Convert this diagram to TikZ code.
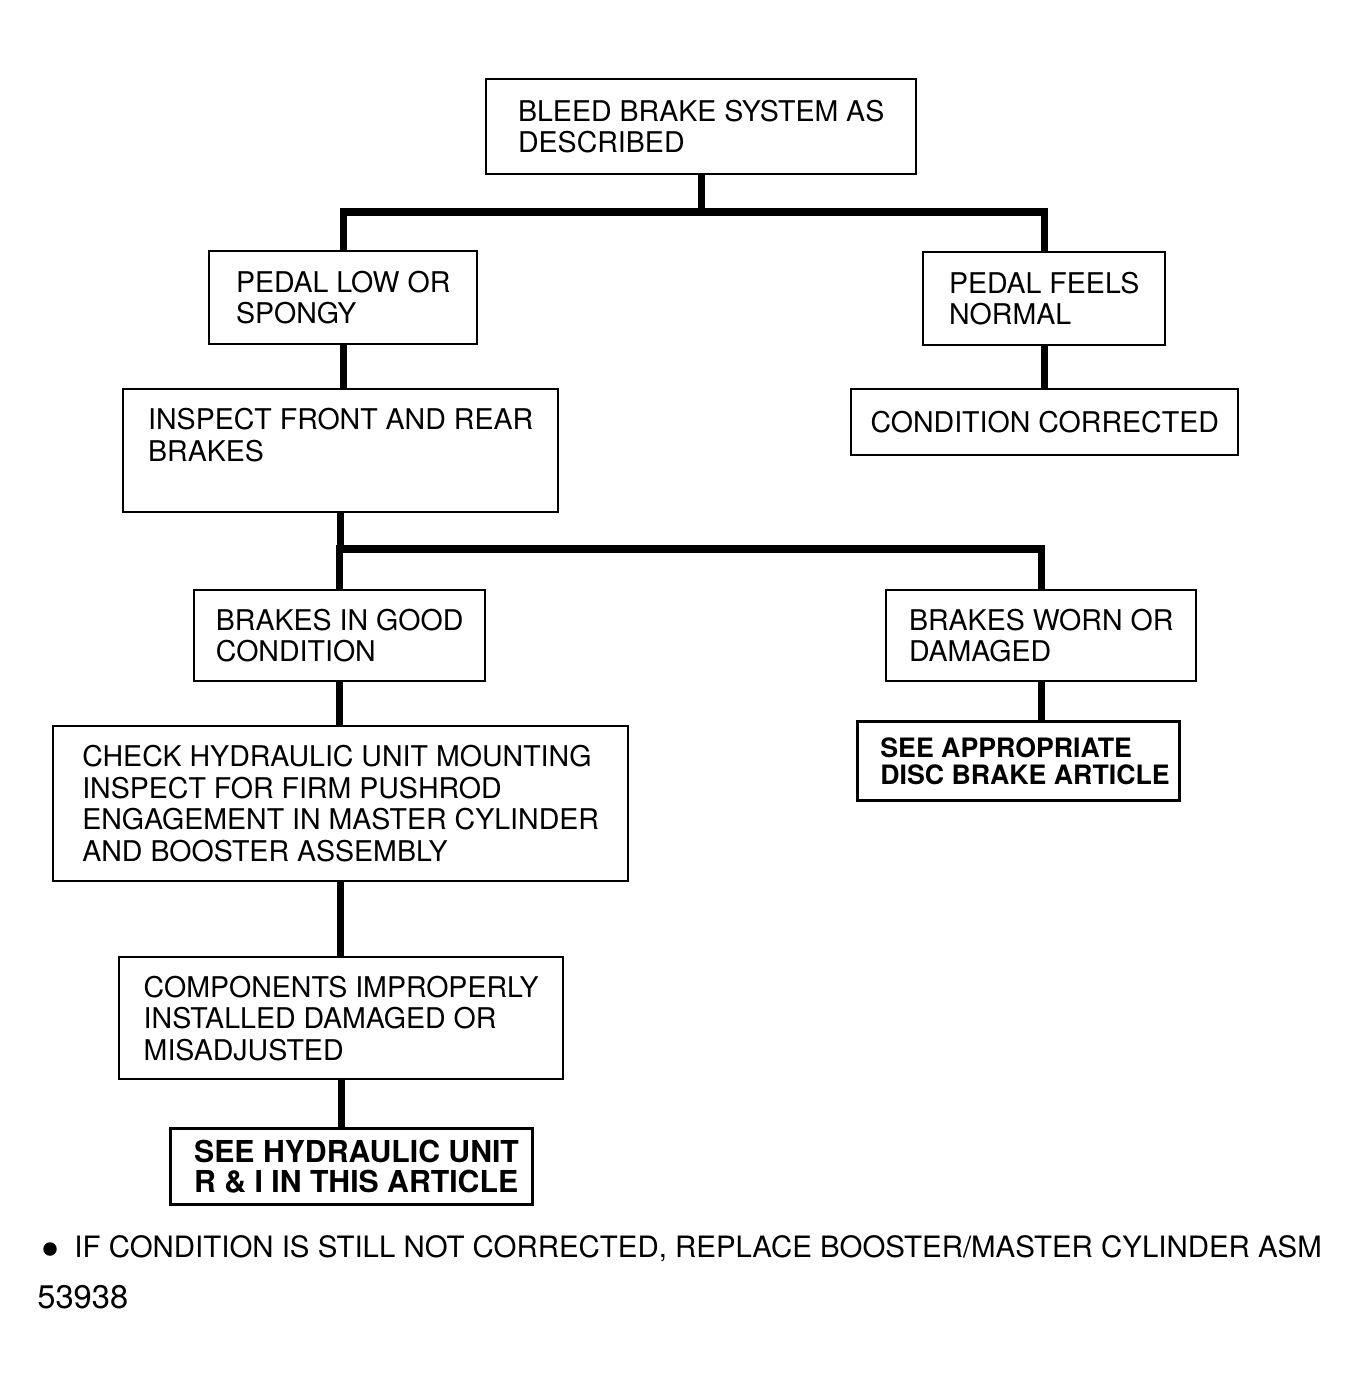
\documentclass[tikz,border=0pt]{standalone}
\usepackage{fontspec}
\setmainfont{TeX Gyre Heros}
\usetikzlibrary{positioning}

\begin{document}
\begin{tikzpicture}[
  x=0.02cm, y=-0.02cm,
  font=\fontsize{16.25}{17.9}\selectfont,
  box/.style={draw,line width=1.4pt,align=left,inner sep=0pt,anchor=north west},
  bbox/.style={box,line width=1.8pt,font=\fontsize{17.2}{17}\selectfont\bfseries},
  conn/.style={line width=4pt}
]
\useasboundingbox (0,0) rectangle (1357,1384);

% ---- top of the chart ----
\node[box,minimum width=8.6cm,minimum height=1.9cm] (bleed) at (485,78)
   {BLEED BRAKE SYSTEM AS\\DESCRIBED};
\node[box,minimum width=5.36cm,minimum height=1.86cm] (low) at (208,250)
   {PEDAL LOW OR\\SPONGY};
\node[box,minimum width=4.84cm,minimum height=1.86cm] (normal) at (922,251)
   {PEDAL FEELS\\NORMAL};
\node[box,minimum width=7.74cm,minimum height=1.32cm] (corrected) at (850,388)
   {CONDITION CORRECTED};
\node[box,minimum width=8.7cm,minimum height=2.46cm] (inspect) at (122,388)
   {INSPECT FRONT AND REAR\\BRAKES\\\mbox{}};

% ---- middle ----
\node[box,minimum width=5.82cm,minimum height=1.82cm] (good) at (193,589)
   {BRAKES IN GOOD\\CONDITION};
\node[box,minimum width=6.2cm,minimum height=1.82cm] (worn) at (885,589)
   {BRAKES WORN OR\\DAMAGED};
\node[bbox,font=\fontsize{15.2}{15.3}\selectfont\bfseries,
      minimum width=6.44cm,minimum height=1.58cm] (disc) at (856,720)
   {\hspace*{0.26cm}SEE APPROPRIATE\\\hspace*{0.26cm}DISC BRAKE ARTICLE};
\node[box,minimum width=11.5cm,minimum height=3.1cm] (check) at (52,725)
   {CHECK HYDRAULIC UNIT MOUNTING\\INSPECT FOR FIRM PUSHROD\\
    ENGAGEMENT IN MASTER CYLINDER\\AND BOOSTER ASSEMBLY};

% ---- bottom ----
\node[box,minimum width=8.88cm,minimum height=2.44cm] (comp) at (118,956)
   {COMPONENTS IMPROPERLY\\INSTALLED DAMAGED OR\\MISADJUSTED};
\node[bbox,minimum width=7.24cm,minimum height=1.52cm] (hyd) at (169,1127)
   {\hspace*{0.2cm}SEE HYDRAULIC UNIT\\\hspace*{0.2cm}R \& I IN THIS ARTICLE};

% ---- connectors ----
\coordinate (j1) at (bleed.south |- 0,212);
\coordinate (j2) at (inspect.south |- 0,549);
\draw[conn] (bleed.south) -- (j1);
\draw[conn] (low.north) |- (j1) -| (normal.north);
\draw[conn] (low.south) -- (low.south |- inspect.north);
\draw[conn] (normal.south) -- (normal.south |- corrected.north);
\draw[conn] (inspect.south) -- (j2);
\draw[conn] (good.north) |- (j2) -| (worn.north);
\draw[conn] (good.south) -- (good.south |- check.north);
\draw[conn] (worn.south) -- (worn.south |- disc.north);
\draw[conn] (check.south) -- (check.south |- comp.north);
\draw[conn] (comp.south) -- (comp.south |- hyd.north);

% ---- footnote ----
\node[circle,fill,inner sep=0pt,minimum size=0.27cm] (dot) at (50,1249) {};
\node[anchor=west,inner sep=0pt,font=\fontsize{16.75}{18}\selectfont,right=0.34cm of dot]
   (note) {IF CONDITION IS STILL NOT CORRECTED, REPLACE BOOSTER/MASTER CYLINDER ASM};
\node[anchor=west,inner sep=0pt,font=\fontsize{18.6}{20}\selectfont] (fig) at (37,1297) {53938};
\end{tikzpicture}
\end{document}
